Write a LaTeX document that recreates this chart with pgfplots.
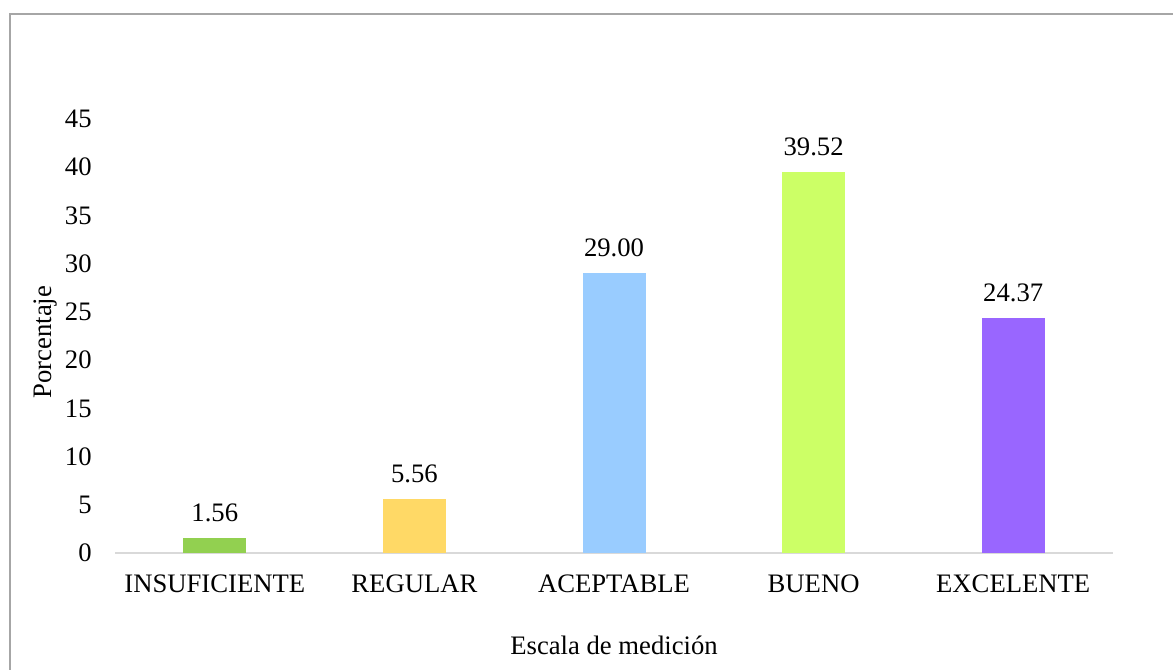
\documentclass[border=0pt]{standalone}
\usepackage{fontspec}
\setmainfont{Liberation Serif}
\usepackage{pgfplots}
\pgfplotsset{compat=1.18}

\definecolor{cInsuf}{HTML}{92D050}
\definecolor{cRegular}{HTML}{FFD966}
\definecolor{cAcept}{HTML}{99CCFF}
\definecolor{cBueno}{HTML}{CCFF66}
\definecolor{cExcel}{HTML}{9966FF}
\definecolor{frameGray}{HTML}{A6A6A6}
\definecolor{axisGray}{HTML}{D9D9D9}

\newcommand{\chartfont}{\fontsize{20}{24}\selectfont}

\begin{document}
\begin{tikzpicture}[x=1pt,y=1pt]
\useasboundingbox (0,0) rectangle (879.75,502.5);
% chart area border
\draw[color=frameGray, line width=1pt] (7.5,0) -- (7.5,492) -- (879.75,492);

\begin{axis}[
  at={(86.25pt,87.75pt)}, anchor=south west,
  scale only axis, width=748.5pt, height=325.5pt,
  xmin=-0.5, xmax=4.5, ymin=0, ymax=45,
  separate axis lines,
  axis x line*=bottom, axis y line*=left,
  y axis line style={draw=none},
  x axis line style={draw=axisGray, line width=1.2pt, -},
  major tick length=0pt,
  xtick={0,1,2,3,4},
  xticklabels={INSUFICIENTE,REGULAR,ACEPTABLE,BUENO,EXCELENTE},
  ytick={0,5,...,45},
  /pgf/number format/assume math mode=true,
  tick label style={font=\chartfont, text=black},
  xticklabel style={yshift=-12.5pt},
  yticklabel style={xshift=-14pt},
  xlabel={Escala de medición},
  ylabel={Porcentaje},
  label style={font=\chartfont},
  xlabel style={at={(axis description cs:0.5,-0.212)}, anchor=center},
  ylabel style={at={(axis description cs:-0.0701,0.486)}, anchor=center, rotate=0},
  ybar, bar width=47.25pt, bar shift=0pt,
  nodes near coords={\pgfmathprintnumber[fixed,fixed zerofill,precision=2,assume math mode=true]{\pgfplotspointmeta}},
  every node near coord/.append style={font=\chartfont, text=black, anchor=south, yshift=8.5pt},
  clip=false,
]
\addplot[fill=cInsuf, draw=none] coordinates {(0,1.56)};
\addplot[fill=cRegular, draw=none] coordinates {(1,5.56)};
\addplot[fill=cAcept, draw=none] coordinates {(2,29.00)};
\addplot[fill=cBueno, draw=none] coordinates {(3,39.52)};
\addplot[fill=cExcel, draw=none] coordinates {(4,24.37)};
\end{axis}
\end{tikzpicture}
\end{document}
